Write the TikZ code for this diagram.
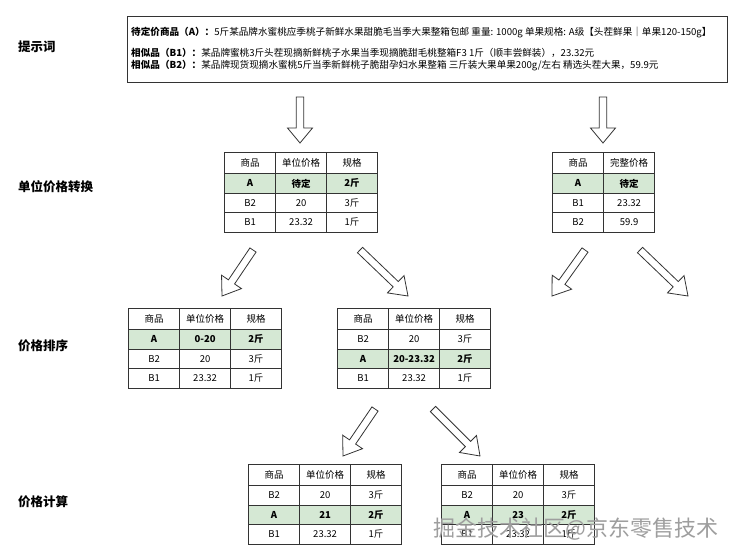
\documentclass[tikz,border=0pt]{standalone}
\usepackage{fontspec}
\setmainfont{Noto Sans CJK SC}
\usetikzlibrary{matrix,calc}
\definecolor{tgreen}{HTML}{D5E8D4}
\definecolor{tline}{HTML}{333333}
\newcommand{\hollowarrow}[5]{%
  \coordinate (hh) at ($(#2)!#5!(#1)$);
  \draw[harrow] ($(#1)!#3!90:(#2)$) -- ($(hh)!#3!90:(#2)$) -- ($(hh)!#4!90:(#2)$) -- (#2)
    -- ($(hh)!#4!-90:(#2)$) -- ($(hh)!#3!-90:(#2)$) -- ($(#1)!#3!-90:(#2)$) -- cycle;}
\newcommand{\wmtext}{掘金技术社区@京东零售技术}
\tikzset{
  cellfont/.style={font=\fontsize{9.5}{10}\selectfont},
  cell/.style={draw=tline, line width=0.8pt, minimum width=51pt, minimum height=19.5pt,
    inner sep=0pt, cellfont, anchor=center},
  tbl/.style={matrix of nodes, nodes={cell}, column sep=-0.8pt, row sep=-0.8pt,
    anchor=north west, inner sep=0pt, row 1/.style={nodes={minimum height=21pt}}},
  hl/.style={nodes={fill=tgreen, font=\fontsize{9.5}{10}\selectfont\bfseries}},
  harrow/.style={draw=tline, line width=0.8pt, fill=white, line join=miter},
  lbl/.style={font=\fontsize{12.5}{14}\selectfont\bfseries, anchor=west, inner sep=0pt},
  ptext/.style={font=\fontsize{9.6}{11}\selectfont, anchor=west, inner sep=0pt},
  wm/.style={font=\fontsize{22}{24}\selectfont, inner sep=0pt, anchor=west, text=black!38},
}
\begin{document}
\begin{tikzpicture}[x=1pt,y=-1pt]
\useasboundingbox (0,0) rectangle (737,559);
\fill[white] (0,0) rectangle (737,559);

% left labels
\node[lbl] (l1) at (18,47) {提示词};
\node[lbl] (l2) at (18,187) {单位价格转换};
\node[lbl] (l3) at (18,346) {价格排序};
\node[lbl] (l4) at (18,502) {价格计算};

% prompt box
\node[draw=tline, line width=0.9pt, minimum width=600pt, minimum height=66pt, anchor=north west, inner sep=0pt] (prompt) at (127,16) {};
\node[ptext] (p1) at (131,32) {\textbf{待定价商品（A）：}5斤某品牌水蜜桃应季桃子新鲜水果甜脆毛当季大果整箱包邮 重量: 1000g 单果规格: A级【头茬鲜果｜单果120-150g】};
\node[ptext] (p2) at (131,53) {\textbf{相似品（B1）：}某品牌蜜桃3斤头茬现摘新鲜桃子水果当季现摘脆甜毛桃整箱F3 1斤（顺丰尝鲜装），23.32元};
\node[ptext] (p3) at (131,66) {\textbf{相似品（B2）：}某品牌现货现摘水蜜桃5斤当季新鲜桃子脆甜孕妇水果整箱 三斤装大果单果200g/左右 精选头茬大果，59.9元};

% tables
\matrix (t1) [tbl, row 2/.style={hl}] at (224,152) {
  商品 & 单位价格 & 规格 \\
  A & 待定 & 2斤 \\
  B2 & 20 & 3斤 \\
  B1 & 23.32 & 1斤 \\
};
\matrix (t2) [tbl, row 2/.style={hl}] at (552,152) {
  商品 & 完整价格 \\
  A & 待定 \\
  B1 & 23.32 \\
  B2 & 59.9 \\
};
\matrix (t3) [tbl, row 2/.style={hl}] at (128,308) {
  商品 & 单位价格 & 规格 \\
  A & 0-20 & 2斤 \\
  B2 & 20 & 3斤 \\
  B1 & 23.32 & 1斤 \\
};
\matrix (t4) [tbl, row 3/.style={hl}] at (337,308) {
  商品 & 单位价格 & 规格 \\
  B2 & 20 & 3斤 \\
  A & 20-23.32 & 2斤 \\
  B1 & 23.32 & 1斤 \\
};
\matrix (t5) [tbl, row 3/.style={hl}] at (248,464) {
  商品 & 单位价格 & 规格 \\
  B2 & 20 & 3斤 \\
  A & 21 & 2斤 \\
  B1 & 23.32 & 1斤 \\
};
\matrix (t6) [tbl, row 3/.style={hl}] at (441,464) {
  商品 & 单位价格 & 规格 \\
  B2 & 20 & 3斤 \\
  A & 23 & 2斤 \\
  B1 & 23.32 & 1斤 \\
};

% arrows
\coordinate (a1t) at (300,97);  \coordinate (a1h) at (300,143);
\coordinate (a2t) at (603,97);  \coordinate (a2h) at (603,143);
\coordinate (a3t) at (253,250); \coordinate (a3h) at (222,296);
\coordinate (a4t) at (360,250); \coordinate (a4h) at (408,296);
\coordinate (a5t) at (585,250); \coordinate (a5h) at (552,296);
\coordinate (a6t) at (640,250); \coordinate (a6h) at (688,296);
\coordinate (a7t) at (375,409); \coordinate (a7h) at (343,456);
\coordinate (a8t) at (433,409); \coordinate (a8h) at (480,456);
\hollowarrow{a1t}{a1h}{3.7pt}{12.5pt}{15pt}
\hollowarrow{a2t}{a2h}{3.7pt}{12.5pt}{15pt}
\hollowarrow{a3t}{a3h}{3.7pt}{12pt}{17pt}
\hollowarrow{a4t}{a4h}{3.7pt}{12pt}{17pt}
\hollowarrow{a5t}{a5h}{3.7pt}{12pt}{17pt}
\hollowarrow{a6t}{a6h}{3.7pt}{12pt}{17pt}
\hollowarrow{a7t}{a7h}{3.7pt}{12pt}{17pt}
\hollowarrow{a8t}{a8h}{3.7pt}{12pt}{17pt}

% watermark
\node[wm] (wm) at (433,529) {\wmtext};
\end{tikzpicture}
\end{document}
